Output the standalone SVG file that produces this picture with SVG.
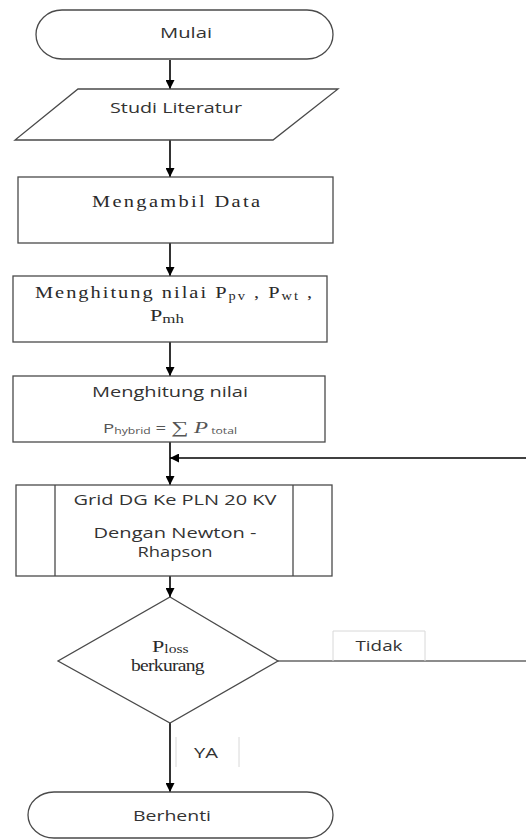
<svg xmlns="http://www.w3.org/2000/svg" width="526" height="840" viewBox="0 0 526 840">
<defs>
<marker id="ah" viewBox="0 0 10 10" refX="10" refY="5" markerWidth="9" markerHeight="9" markerUnits="userSpaceOnUse" orient="auto">
<path d="M0,0 L10,5 L0,10 z" fill="#000"/>
</marker>
</defs>
<style>
.shape{fill:#fff;stroke:#4a4a4a;stroke-width:1.3}
.sans{font-family:"Open Sans","Liberation Sans",sans-serif;fill:#333;font-size:14px}
.serif{font-family:"Liberation Serif","Times New Roman",serif;fill:#2a2a2a;font-size:17px;font-weight:normal}
.conn{stroke:#000;stroke-width:1.6;fill:none}
.gline{stroke:#666;stroke-width:1.3;fill:none}
.lbl{stroke:#d8d8d8;stroke-width:1;fill:none}
</style>
<rect width="526" height="840" fill="#fff"/>
<g id="connectors">
<line class="conn" x1="170" y1="60" x2="170" y2="89" marker-end="url(#ah)"/>
<line class="conn" x1="170" y1="140" x2="170" y2="177" marker-end="url(#ah)"/>
<line class="conn" x1="170" y1="243" x2="170" y2="276" marker-end="url(#ah)"/>
<line class="conn" x1="170" y1="342" x2="170" y2="376" marker-end="url(#ah)"/>
<line class="conn" x1="170" y1="442" x2="170" y2="485" marker-end="url(#ah)"/>
<line class="conn" x1="526" y1="458" x2="170" y2="458" marker-end="url(#ah)"/>
<line class="conn" x1="170" y1="576" x2="170" y2="597" marker-end="url(#ah)"/>
<line class="conn" x1="170" y1="723" x2="170" y2="792" marker-end="url(#ah)"/>
<line class="gline" x1="278" y1="661" x2="526" y2="661"/>
<g id="label-tidak">
<path class="lbl" d="M333,661 V631 H425 V661"/>
<text class="sans" x="379" y="651" text-anchor="middle" textLength="47" lengthAdjust="spacingAndGlyphs">Tidak</text>
</g>
<g id="label-ya">
<path class="lbl" d="M176,737 V767 M239,737 V767"/>
<text class="sans" x="206" y="758" text-anchor="middle" textLength="24" lengthAdjust="spacingAndGlyphs">YA</text>
</g>
</g>
<g id="mulai">
<rect class="shape" x="36" y="10" width="297" height="49" rx="26" ry="24.5"/>
<text class="sans" x="186" y="38" text-anchor="middle" textLength="52" lengthAdjust="spacingAndGlyphs">Mulai</text>
</g>
<g id="studi">
<polygon class="shape" points="78,89 338,89 273,140 15,140"/>
<text class="sans" x="176" y="113" text-anchor="middle" textLength="132" lengthAdjust="spacingAndGlyphs">Studi Literatur</text>
</g>
<g id="mengambil">
<rect class="shape" x="18" y="177" width="315" height="66"/>
<text class="serif" transform="translate(92,207) scale(1.2,1)" x="0" y="0" textLength="140" lengthAdjust="spacing">Mengambil Data</text>
</g>
<g id="hitung1">
<rect class="shape" x="13" y="276" width="314" height="66"/>
<text class="serif" transform="translate(35,298) scale(1.2,1)" x="0" y="0" textLength="231" lengthAdjust="spacing">Menghitung nilai P<tspan font-size="12" dy="2">pv</tspan><tspan dy="-2"> , P</tspan><tspan font-size="12" dy="2">wt</tspan><tspan dy="-2"> ,</tspan></text>
<text class="serif" transform="translate(150,321) scale(1.3,1)" x="0" y="0" font-size="18">P<tspan font-size="13" dy="2">mh</tspan></text>
</g>
<g id="hitung2">
<rect class="shape" x="13" y="376" width="312" height="66"/>
<text class="sans" x="170" y="397" text-anchor="middle" textLength="156" lengthAdjust="spacingAndGlyphs">Menghitung nilai</text>
<text x="103" y="433" textLength="134" lengthAdjust="spacingAndGlyphs" style="font-family:'Open Sans','Liberation Sans',sans-serif;font-size:13px;fill:#555">P<tspan font-size="8.5" dy="1">hybrid</tspan><tspan dy="-1"> = </tspan><tspan font-family="Liberation Serif,serif" font-size="17">∑</tspan><tspan font-family="Liberation Serif,serif" font-style="italic" font-size="16"> P</tspan><tspan font-size="8.5" dy="1"> total</tspan></text>
</g>
<g id="grid">
<rect class="shape" x="16" y="485" width="316" height="91"/>
<line class="shape" x1="55" y1="485" x2="55" y2="576"/>
<line class="shape" x1="293" y1="485" x2="293" y2="576"/>
<text class="sans" x="175" y="505" text-anchor="middle" textLength="203" lengthAdjust="spacingAndGlyphs">Grid DG Ke PLN 20 KV</text>
<text class="sans" x="175" y="538" text-anchor="middle" textLength="163" lengthAdjust="spacingAndGlyphs">Dengan Newton -</text>
<text class="sans" x="175" y="557" text-anchor="middle" textLength="75" lengthAdjust="spacingAndGlyphs">Rhapson</text>
</g>
<g id="ploss">
<polygon class="shape" points="170,597 278,661 170,723 58,661"/>
<text class="serif" transform="translate(152,652) scale(1.3,1)" x="0" y="0" font-size="18">P<tspan font-size="12" dy="1">loss</tspan></text>
<text class="serif" transform="translate(131,671) scale(1.15,1)" x="0" y="0" font-size="15" textLength="64" lengthAdjust="spacing">berkurang</text>
</g>
<g id="berhenti">
<rect class="shape" x="28" y="792" width="305" height="46" rx="26" ry="23"/>
<text class="sans" x="172" y="821" text-anchor="middle" textLength="78" lengthAdjust="spacingAndGlyphs">Berhenti</text>
</g>
</svg>
